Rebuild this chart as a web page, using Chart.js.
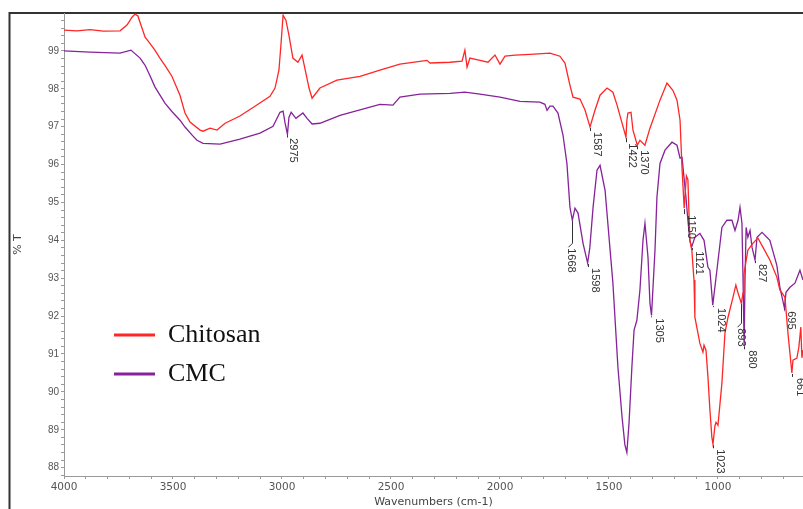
<!DOCTYPE html>
<html>
<head>
<meta charset="utf-8">
<title>FTIR - Chitosan / CMC</title>
<script src="https://cdn.jsdelivr.net/npm/chart.js@4.4.1/dist/chart.umd.min.js"></script>
<style>
  html, body { margin: 0; padding: 0; background: #fff; }
</style>
</head>
<body>
<canvas id="ftirChart" width="803" height="509"></canvas>
<script>
// Wavenumbers (cm-1) and %T for each spectrum
var chitosanWave = [4000, 3940, 3881, 3820, 3743, 3711, 3688, 3674, 3661, 3628, 3606, 3583, 3560, 3537, 3505, 3468, 3445, 3422,
    3376, 3362, 3330, 3298, 3261, 3193, 3124, 3055, 3032, 3014, 3005, 2995, 2982, 2968, 2950, 2927, 2908, 2895,
    2876, 2862, 2826, 2748, 2642, 2551, 2459, 2335, 2321, 2229, 2174, 2161, 2151, 2138, 2092, 2055, 2023, 2000,
    1977, 1931, 1862, 1771, 1725, 1702, 1679, 1665, 1633, 1610, 1587, 1564, 1541, 1509, 1482, 1463, 1450, 1422,
    1418, 1413, 1399, 1390, 1370, 1358, 1335, 1312, 1266, 1234, 1207, 1188, 1174, 1165, 1155, 1145, 1138, 1129,
    1120, 1110, 1106, 1083, 1069, 1064, 1055, 1046, 1037, 1028, 1023, 1014, 1009, 1000, 982, 968, 954, 931, 918,
    908, 893, 885, 881, 863, 840, 817, 794, 762, 730, 716, 693, 679, 661, 656, 638, 629, 620, 615, 610];
var chitosanT = [99.55, 99.53, 99.56, 99.52, 99.53, 99.68, 99.89, 99.97, 99.92, 99.36, 99.20, 99.02, 98.81, 98.62, 98.33, 97.83, 97.36, 97.12,
    96.91, 96.88, 96.96, 96.91, 97.09, 97.28, 97.54, 97.80, 98.02, 98.49, 99.15, 99.94, 99.81, 99.41, 98.81, 98.70, 98.89, 98.54,
    98.02, 97.75, 98.02, 98.23, 98.33, 98.49, 98.65, 98.75, 98.68, 98.70, 98.73, 99.02, 98.57, 98.81, 98.75, 98.70, 98.89, 98.65,
    98.86, 98.89, 98.91, 98.94, 98.86, 98.68, 98.09, 97.78, 97.73, 97.44, 96.99, 97.44, 97.83, 98.02, 97.91, 97.57, 97.30, 96.72,
    97.17, 97.36, 97.38, 96.91, 96.51, 96.64, 96.51, 96.96, 97.70, 98.15, 97.96, 97.70, 97.17, 95.90, 94.85, 95.70, 95.60, 94.00,
    93.74, 92.95, 91.97, 91.28, 91.05, 91.23, 91.10, 90.39, 89.52, 88.80, 88.62, 89.10, 89.20, 89.12, 90.23, 91.55, 91.97, 92.50, 92.82,
    92.61, 92.34, 92.61, 93.10, 93.74, 93.92, 94.06, 93.82, 93.48, 93.03, 92.69, 92.50, 91.55, 90.50, 90.84, 90.89, 91.18, 91.71, 90.90, 91.10];

var cmcWave = [4000, 3881, 3743, 3693, 3651, 3628, 3606, 3583, 3537, 3505, 3468, 3445, 3408, 3390, 3362, 3284, 3193, 3101, 3041, 3009, 2995, 2986, 2975,
    2968, 2958, 2936, 2904, 2885, 2862, 2826, 2734, 2551, 2491, 2459, 2367, 2229, 2161, 2092, 2000, 1908, 1817, 1794,
    1784, 1771, 1757, 1734, 1711, 1693, 1679, 1668, 1656, 1642, 1619, 1598, 1588, 1573, 1555, 1541, 1518, 1496, 1482,
    1459, 1440, 1427, 1418, 1408, 1395, 1385, 1372, 1358, 1344, 1335, 1321, 1312, 1305, 1298, 1289, 1280, 1266, 1243,
    1211, 1188, 1174, 1165, 1156, 1147, 1138, 1129, 1121, 1106, 1083, 1064, 1046, 1037, 1024, 1005, 982, 959, 936, 922,
    908, 899, 890, 885, 880, 876, 871, 863, 853, 844, 830, 821, 798, 762, 730, 716, 695, 688, 670, 647, 624, 610];
var cmcT = [99.00, 98.97, 98.94, 99.02, 98.81, 98.62, 98.35, 98.05, 97.62, 97.40, 97.17, 96.99, 96.75, 96.64, 96.56, 96.54, 96.67, 96.83, 97.01, 97.38, 97.41, 97.10, 96.80,
    97.25, 97.38, 97.22, 97.36, 97.22, 97.07, 97.09, 97.30, 97.59, 97.57, 97.78, 97.86, 97.88, 97.91, 97.86, 97.78, 97.67, 97.65, 97.59,
    97.43, 97.54, 97.54, 97.36, 96.78, 96.03, 94.87, 94.53, 94.85, 94.72, 93.92, 93.40, 93.80, 94.87, 95.85, 95.98, 95.32, 93.82, 92.87,
    90.65, 89.33, 88.60, 88.40, 89.18, 90.65, 91.63, 91.89, 92.69, 94.00, 94.45, 93.55, 92.34, 92.02, 92.77, 93.74, 95.14, 96.03, 96.38,
    96.59, 96.51, 96.17, 96.19, 95.67, 95.14, 94.53, 94.00, 93.82, 94.08, 94.18, 94.00, 93.29, 93.21, 92.29, 93.21, 94.34, 94.53, 94.53, 94.26,
    94.53, 94.87, 94.45, 92.95, 91.23, 92.95, 94.34, 94.08, 94.26, 93.82, 93.48, 94.08, 94.21, 94.00, 93.34, 92.76, 92.21, 92.63, 92.76, 92.87, 93.21, 92.95];

// Peak annotations: wavenumber and which spectrum (0 = Chitosan, 1 = CMC)
var peakWave = [2975, 1587, 1422, 1370, 1668, 1598, 1305, 1150, 1121, 1024, 893, 880, 827, 695, 661, 1023];
var peakSeries = [1, 0, 0, 0, 1, 1, 1, 0, 1, 1, 0, 1, 1, 1, 0, 0];

// leader length / text shift / bend for each annotation (style only)
var peakGap   = [4, 5, 6, 5, 28, 5, 3, 7, 4, 3, 25, 5, 4, 3, 5, 5];
var peakShift = [2, 3, 2, 3, -5, 3, 4, 3, 3, 4, -4, 4, 3, 3, 4, 3];
var peakBend  = [0, 0, 0, 0, -4, 0, 0, 0, 0, 0, -4, 0, 0, 0, 0, 0];

function toPoints(w, t) {
    return w.map(function (v, i) { return { x: v, y: t[i] }; });
}

// outer frame round the figure
var framePlugin = {
    id: 'frame',
    beforeDraw: function (chart) {
        var c = chart.ctx;
        c.save();
        c.strokeStyle = '#333';
        c.lineWidth = 2;
        c.beginPath();
        c.moveTo(9.5, 509);
        c.lineTo(9.5, 13);
        c.lineTo(803, 13);
        c.stroke();
        c.restore();
    }
};

// legend inside the plot
var legendPlugin = {
    id: 'innerLegend',
    afterDatasetsDraw: function (chart) {
        var c = chart.ctx;
        c.save();
        chart.data.datasets.forEach(function (ds, i) {
            var y = 335 + i * 39;
            c.strokeStyle = ds.borderColor;
            c.lineWidth = 3;
            c.beginPath();
            c.moveTo(114, y);
            c.lineTo(155, y);
            c.stroke();
            c.fillStyle = '#111';
            c.font = '26px "Liberation Serif", "Times New Roman", serif';
            c.textAlign = 'left';
            c.textBaseline = 'alphabetic';
            c.fillText(ds.label, 168, y + 7);
        });
        c.restore();
    }
};

// peak labels with their small leader lines
var peakPlugin = {
    id: 'peaks',
    afterDatasetsDraw: function (chart) {
        var c = chart.ctx;
        var xs = chart.scales.x, ys = chart.scales.y;
        c.save();
        c.strokeStyle = '#333';
        c.fillStyle = '#333';
        c.lineWidth = 1;
        c.font = '11px "Liberation Sans", Arial, sans-serif';
        peakWave.forEach(function (w, i) {
            var data = chart.data.datasets[peakSeries[i]].data;
            var best = data[0];
            data.forEach(function (p) {
                if (Math.abs(p.x - w) < Math.abs(best.x - w)) best = p;
            });
            var px = Math.round(xs.getPixelForValue(best.x)) + 0.5;
            var py = ys.getPixelForValue(best.y);
            var gap = peakGap[i], bend = peakBend[i];
            c.beginPath();
            c.moveTo(px, py + 1);
            if (bend) {
                c.lineTo(px, py + gap - 5);
                c.lineTo(px + bend, py + gap - 1);
            } else {
                c.lineTo(px, py + gap - 1);
            }
            c.stroke();
            c.save();
            c.translate(px + peakShift[i], py + gap);
            c.rotate(Math.PI / 2);
            c.textAlign = 'left';
            c.textBaseline = 'alphabetic';
            c.fillText(String(w), 0, 0);
            c.restore();
        });
        c.restore();
    }
};

var ctx = document.getElementById('ftirChart').getContext('2d');

var ftirChart = new Chart(ctx, {
    type: 'line',
    data: {
        datasets: [{
            label: 'Chitosan',
            data: toPoints(chitosanWave, chitosanT),
            borderColor: '#ff2626',
            borderWidth: 1.3,
            pointRadius: 0,
            tension: 0,
            fill: false
        }, {
            label: 'CMC',
            data: toPoints(cmcWave, cmcT),
            borderColor: '#86229a',
            borderWidth: 1.3,
            pointRadius: 0,
            tension: 0,
            fill: false
        }]
    },
    options: {
        responsive: false,
        animation: false,
        layout: { padding: { top: 13, right: 0, bottom: 0, left: 0 } },
        plugins: {
            legend: { display: false },
            tooltip: { enabled: false }
        },
        scales: {
            x: {
                type: 'linear',
                reverse: true,
                min: 610,
                max: 4000,
                afterBuildTicks: function (scale) {
                    var t = [];
                    for (var v = 700; v <= 4000; v += 100) t.push({ value: v });
                    scale.ticks = t;
                },
                afterFit: function (scale) { scale.height = 33; },
                ticks: {
                    autoSkip: false,
                    maxRotation: 0,
                    padding: 2,
                    color: '#555',
                    font: { family: 'DejaVu Sans', size: 10.5 },
                    callback: function (v) { return v % 500 === 0 ? String(v) : ''; }
                },
                grid: { drawOnChartArea: false, drawTicks: true, tickLength: 3, color: '#999' },
                border: { color: '#999', width: 1 },
                title: {
                    display: true,
                    text: 'Wavenumbers (cm-1)',
                    color: '#444',
                    font: { family: 'DejaVu Sans', size: 11 },
                    padding: { top: 0, bottom: 0 }
                }
            },
            y: {
                min: 87.78,
                max: 100,
                afterBuildTicks: function (scale) {
                    var t = [];
                    for (var i = 439; i <= 499; i++) t.push({ value: i / 5 });
                    scale.ticks = t;
                },
                afterFit: function (scale) { scale.width = 64; },
                ticks: {
                    autoSkip: false,
                    padding: 2,
                    color: '#555',
                    font: { family: 'Liberation Sans', size: 10 },
                    callback: function (v) {
                        return Math.abs(v - Math.round(v)) < 1e-6 ? String(Math.round(v)) : '';
                    }
                },
                grid: { drawOnChartArea: false, drawTicks: true, tickLength: 3, color: '#999' },
                border: { color: '#999', width: 1 },
                title: {
                    display: true,
                    text: '% T',
                    color: '#444',
                    font: { family: 'DejaVu Sans', size: 11 },
                    padding: { top: 12, bottom: 0 }
                }
            }
        }
    },
    plugins: [framePlugin, legendPlugin, peakPlugin]
});
</script>
</body>
</html>
